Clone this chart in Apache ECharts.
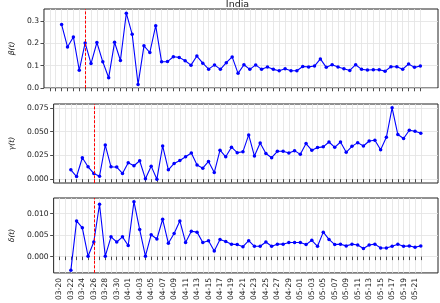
<!DOCTYPE html>
<html>
<head>
<meta charset="utf-8">
<script src="https://cdn.jsdelivr.net/npm/echarts@6.0.0/dist/echarts.min.js"></script>
<style>
  html, body { margin: 0; padding: 0; background: #fff; }
  #chart { width: 440px; height: 303px; }
</style>
</head>
<body>
<div id="chart"></div>
<script>
// 日期 03-22 .. 05-22
var firstDay = '2020-03-22';
var beta = [0.285, 0.184, 0.229, 0.079, 0.202, 0.109, 0.204, 0.117, 0.045, 0.205,
    0.123, 0.336, 0.241, 0.015, 0.189, 0.159, 0.280, 0.117, 0.118, 0.140,
    0.137, 0.122, 0.102, 0.143, 0.111, 0.084, 0.103, 0.083, 0.113, 0.139,
    0.065, 0.104, 0.083, 0.103, 0.083, 0.094, 0.083, 0.077, 0.086, 0.077,
    0.077, 0.096, 0.094, 0.098, 0.130, 0.092, 0.104, 0.094, 0.086, 0.078,
    0.104, 0.083, 0.080, 0.081, 0.081, 0.075, 0.095, 0.095, 0.084, 0.107,
    0.092, 0.098];
var gamma = [0.0099, 0.0028, 0.0225, 0.0130, 0.0060, 0.0032, 0.0359, 0.0130, 0.0127, 0.0060,
    0.0173, 0.0141, 0.0194, 0.0004, 0.0137, 0.0000, 0.0349, 0.0099, 0.0165, 0.0197,
    0.0236, 0.0275, 0.0148, 0.0116, 0.0187, 0.0070, 0.0305, 0.0235, 0.0336, 0.0279,
    0.0289, 0.0465, 0.0243, 0.0380, 0.0270, 0.0226, 0.0293, 0.0293, 0.0275, 0.0300,
    0.0261, 0.0374, 0.0303, 0.0332, 0.0340, 0.0391, 0.0335, 0.0391, 0.0282, 0.0345,
    0.0384, 0.0349, 0.0401, 0.0409, 0.0310, 0.0440, 0.0750, 0.0469, 0.0427, 0.0514,
    0.0504, 0.0483];
var delta = [-0.0032, 0.0083, 0.0067, 0.0001, 0.0034, 0.0122, 0.0001, 0.0046, 0.0034, 0.0046,
    0.0026, 0.0128, 0.0063, 0.0001, 0.0051, 0.0041, 0.0087, 0.0031, 0.0054, 0.0083,
    0.0033, 0.0059, 0.0057, 0.0033, 0.0037, 0.0013, 0.0040, 0.0035, 0.0029, 0.0028,
    0.0023, 0.0037, 0.0024, 0.0024, 0.0034, 0.0024, 0.0029, 0.0029, 0.0033, 0.0033,
    0.0033, 0.0028, 0.0038, 0.0024, 0.0057, 0.0040, 0.0028, 0.0029, 0.0025, 0.0029,
    0.0027, 0.0019, 0.0027, 0.0029, 0.0020, 0.0020, 0.0024, 0.0029, 0.0024, 0.0025,
    0.0022, 0.0025];

var betaTicks = [0, 0.1, 0.2, 0.3];
var gammaTicks = [0, 0.025, 0.05, 0.075];
var deltaTicks = [0, 0.005, 0.01];

var lockdownDay = '03-26';   // 红色虚线

function makeDays(start, n) {
    var list = [];
    var t = new Date(start + 'T00:00:00Z').getTime();
    for (var i = 0; i < n; i++) {
        var d = new Date(t + i * 86400000);
        var m = d.getUTCMonth() + 1, dd = d.getUTCDate();
        list.push((m < 10 ? '0' : '') + m + '-' + (dd < 10 ? '0' : '') + dd);
    }
    return list;
}

var axisDays = makeDays('2020-03-19', 68);   // 03-19 .. 05-25
var dates = makeDays(firstDay, beta.length);

function tickDay(i) { return i >= 1 && i <= 64; }            // 03-20 .. 05-22
function labelDay(i) { return i >= 1 && i <= 63 && i % 2 == 1; }

function pairs(vals) {
    var out = [];
    for (var i = 0; i < vals.length; i++) {
        out.push([axisDays.indexOf(dates[i]), vals[i]]);
    }
    return out;
}

var font = 'DejaVu Sans';
var grids = [
    {left: 37, top: 9, width: 401, height: 79},
    {left: 37, top: 104, width: 401, height: 79},
    {left: 37, top: 198, width: 401, height: 78}
];
for (var g = 0; g < grids.length; g++) {
    grids[g].show = true;
    grids[g].borderColor = '#222';
    grids[g].borderWidth = 1;
    grids[g].backgroundColor = 'transparent';
}

function makeX(idx, showLabel) {
    return {
        type: 'category', gridIndex: idx, data: axisDays, boundaryGap: false,
        axisLine: {show: false},
        axisTick: {show: true, length: 3.5, interval: tickDay, lineStyle: {color: '#222', width: 0.8}},
        splitLine: {show: true, interval: tickDay, lineStyle: {color: '#e2e2e2', width: 0.8}},
        axisLabel: {
            show: showLabel, interval: labelDay, rotate: 90, margin: 5,
            fontSize: 7.6, fontFamily: font, color: '#222'
        }
    };
}

function makeY(idx, name, min, max, ticks, digits, gap) {
    return {
        type: 'value', gridIndex: idx, min: min, max: max,
        name: name, nameLocation: 'middle', nameGap: gap, nameRotate: 90,
        nameTextStyle: {fontSize: 7.6, fontFamily: font, fontStyle: 'italic', color: '#222'},
        axisLine: {show: false},
        axisTick: {show: true, length: 3.5, customValues: ticks, lineStyle: {color: '#222', width: 0.8}},
        splitLine: {show: true, lineStyle: {color: '#e2e2e2', width: 0.8}},
        axisLabel: {
            customValues: ticks, margin: 5, fontSize: 7.6, fontFamily: font, color: '#222',
            formatter: function (v) { return v.toFixed(digits); }
        }
    };
}

function makeSeries(idx, vals) {
    return {
        type: 'line', xAxisIndex: idx, yAxisIndex: idx, data: pairs(vals),
        symbol: 'circle', symbolSize: 3.5, showAllSymbol: true,
        lineStyle: {color: '#0000ff', width: 1.1},
        itemStyle: {color: '#0000ff'},
        markLine: {
            silent: true, symbol: 'none', label: {show: false}, z: 5,
            lineStyle: {color: '#ff0000', width: 1, type: [3, 1.6]},
            data: [{xAxis: axisDays.indexOf(lockdownDay)}]
        }
    };
}

var chart = echarts.init(document.getElementById('chart'), null, {renderer: 'canvas'});
var option = {
    animation: false,
    backgroundColor: '#fff',
    title: {
        text: 'India', left: 237.5, textAlign: 'center', top: 0, padding: 0,
        textStyle: {fontSize: 9.5, fontWeight: 'normal', fontFamily: font, color: '#222'}
    },
    grid: grids,
    xAxis: [makeX(0, false), makeX(1, false), makeX(2, true)],
    yAxis: [
        makeY(0, 'β(t)', -0.001, 0.355, betaTicks, 1, 24),
        makeY(1, 'γ(t)', -0.004, 0.079, gammaTicks, 3, 29),
        makeY(2, 'δ(t)', -0.0038, 0.01365, deltaTicks, 3, 29)
    ],
    series: [makeSeries(0, beta), makeSeries(1, gamma), makeSeries(2, delta)]
};
chart.setOption(option);
</script>
</body>
</html>
